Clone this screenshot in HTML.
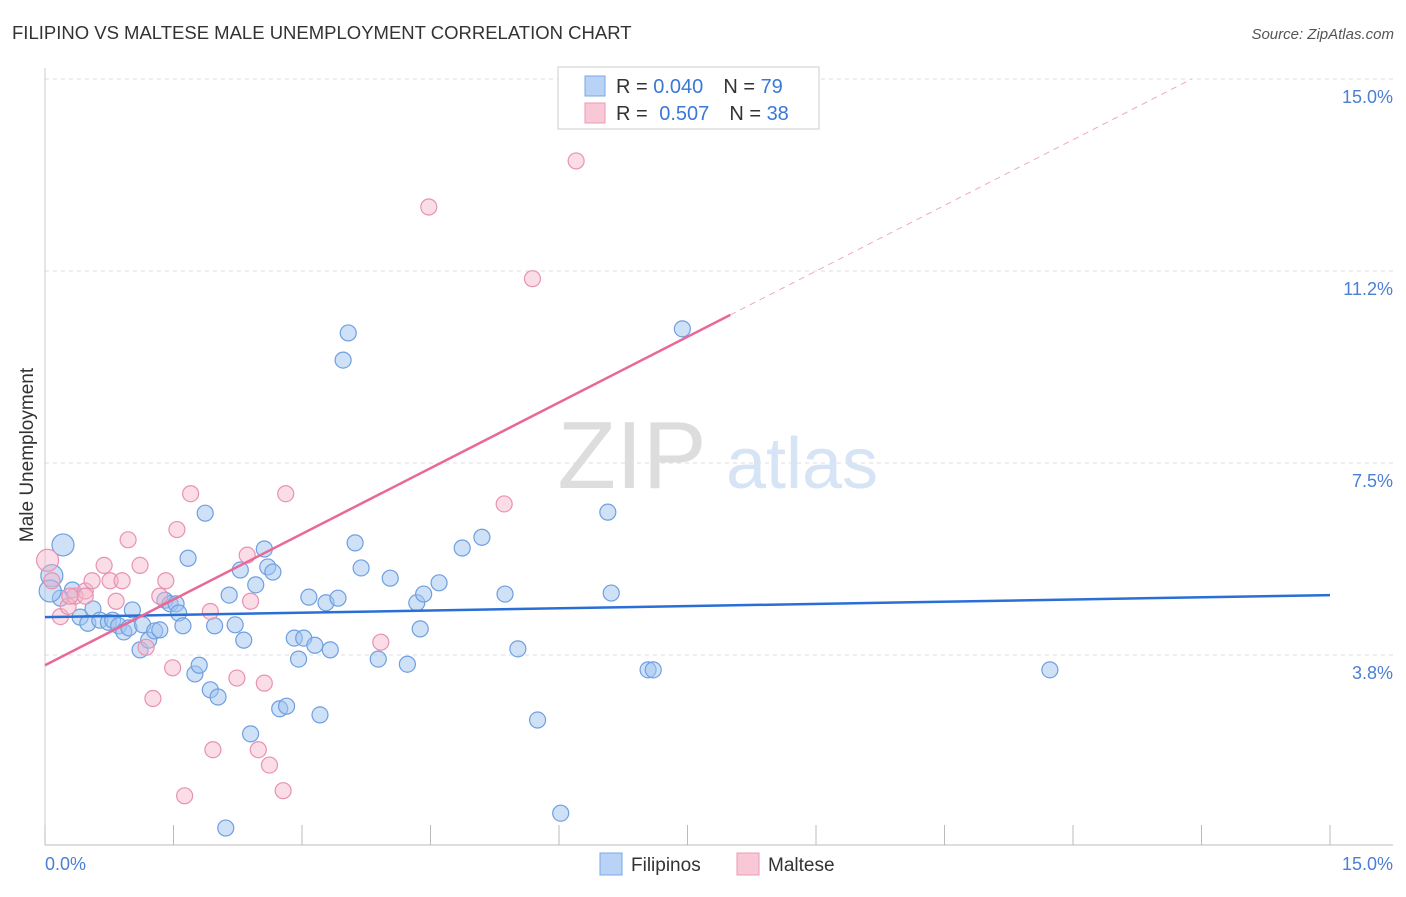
<!DOCTYPE html>
<html><head><meta charset="utf-8"><style>
body{margin:0;background:#fff;font-family:"Liberation Sans",sans-serif;}
svg text{font-family:"Liberation Sans",sans-serif;}
</style></head><body>
<svg id="chart" width="1406" height="892">
<text x="12" y="39" font-size="18.5" fill="#333">FILIPINO VS MALTESE MALE UNEMPLOYMENT CORRELATION CHART</text>
<text x="1394" y="39" font-size="15" fill="#555" font-style="italic" text-anchor="end">Source: ZipAtlas.com</text>
<g id="grid"></g>
<text x="632" y="488" font-size="96" fill="#ddd" text-anchor="middle" font-family="Liberation Serif">ZIP</text>
<text x="802" y="488" font-size="72" fill="#d6e4f5" text-anchor="middle">atlas</text>
<g id="marks"></g>
<text x="33" y="455" font-size="19" fill="#333" transform="rotate(-90 33 455)" text-anchor="middle">Male Unemployment</text>
<text x="45" y="870" font-size="18" fill="#4a7fd4">0.0%</text>
<text x="1393" y="870" font-size="18" fill="#4a7fd4" text-anchor="end">15.0%</text>
<g>
<rect x="558" y="67" width="261" height="62" fill="#fff" stroke="#ccc"/>
<rect x="585" y="76" width="20" height="20" fill="#b8d3f5" stroke="#7aa7e6"/>
<rect x="585" y="103" width="20" height="20" fill="#f9c8d6" stroke="#ec9ab5"/>
<text x="616" y="93" font-size="20" fill="#333">R = <tspan fill="#3a78d8">0.040</tspan><tspan dx="20">N = </tspan><tspan fill="#3a78d8">79</tspan></text>
<text x="616" y="120" font-size="20" fill="#333">R = <tspan dx="6" fill="#3a78d8">0.507</tspan><tspan dx="20">N = </tspan><tspan fill="#3a78d8">38</tspan></text>
</g>
<g>
<rect x="600" y="853" width="22" height="22" fill="#b8d3f5" stroke="#7aa7e6"/>
<text x="631" y="871" font-size="19" fill="#333">Filipinos</text>
<rect x="737" y="853" width="22" height="22" fill="#f9c8d6" stroke="#ec9ab5"/>
<text x="768" y="871" font-size="19" fill="#333">Maltese</text>
</g>
</svg>
<script>
const yTicks=[3.75,7.5,11.25,15];
const yTickLabels=["3.8%","7.5%","11.2%","15.0%"];
const blueX=[0.32,0.18,0.41,0.56,0.50,0.64,0.74,0.79,0.86,0.92,1.02,0.98,1.14,1.11,1.21,1.28,1.34,1.40,1.46,1.53,1.56,1.61,1.67,1.75,1.80,1.87,1.93,1.98,2.02,2.15,2.22,2.28,2.32,2.40,2.46,2.56,2.60,2.66,2.74,2.82,2.91,2.96,3.02,3.08,3.15,3.21,3.28,3.33,3.42,3.48,3.54,3.62,3.69,3.89,4.03,4.23,4.34,4.38,4.42,4.60,4.87,5.10,5.37,5.52,5.75,6.02,6.57,6.61,7.04,7.10,7.44,11.73,2.11];
const blueY=[5.02,4.86,4.49,4.65,4.37,4.43,4.39,4.43,4.32,4.20,4.63,4.28,4.34,3.85,4.04,4.22,4.24,4.82,4.75,4.75,4.57,4.32,5.64,3.38,3.55,6.52,3.07,4.32,2.93,4.92,4.34,5.41,4.04,2.21,5.12,5.82,5.47,5.37,2.70,2.75,4.08,3.67,4.08,4.88,3.94,2.58,4.77,3.85,4.86,9.51,10.04,5.94,5.45,3.67,5.25,3.57,4.77,4.26,4.94,5.16,5.84,6.05,4.94,3.87,2.48,0.66,6.54,4.96,3.46,3.46,10.12,3.46,0.37];
const blueBigX=[0.21,0.08,0.06];
const blueBigY=[5.9,5.3,5.0];
const pinkX=[0.03,0.08,0.18,0.27,0.35,0.47,0.55,0.69,0.76,0.83,0.90,0.97,1.11,1.18,1.26,1.34,1.41,1.49,1.54,1.63,1.70,1.93,1.96,2.24,2.36,2.40,2.49,2.56,2.62,2.78,2.81,3.92,4.48,5.36,5.69,6.20,0.47,0.29];
const pinkY=[5.6,5.2,4.5,4.7,4.9,5.0,5.2,5.5,5.2,4.8,5.2,6.0,5.5,3.9,2.9,4.9,5.2,3.5,6.2,1.0,6.9,4.6,1.9,3.3,5.7,4.8,1.9,3.2,1.6,1.1,6.9,4.0,12.5,6.7,11.1,13.4,4.9,4.9];
const blueTrend=[4.49,4.92];
const pinkTrend=[3.55,16.38];
const NS='http://www.w3.org/2000/svg';
const X0=45,X1=1330,Y0=847,PPY=51.2;
function sx(v){return X0+(X1-X0)*v/15;}
function sy(v){return Y0-v*PPY;}
const grid=document.getElementById('grid');
const marks=document.getElementById('marks');
function mk(tag,attrs,parent){const e=document.createElementNS(NS,tag);for(const k in attrs)e.setAttribute(k,attrs[k]);parent.appendChild(e);return e;}
yTicks.forEach((t,i)=>{
 const l=mk('line',{x1:45,x2:1393,y1:sy(t),y2:sy(t),stroke:'#ddd','stroke-dasharray':'4,4'},grid);
 
 
 const tx=mk('text',{x:1393,y:sy(t)+24,'font-size':18,fill:'#4a7fd4','text-anchor':'end'},grid);
 tx.textContent=yTickLabels[i];
 
 
});
const ax=mk('line',{x1:45,x2:1393,y1:845,y2:845,stroke:'#bbb'},grid);


const ay=mk('line',{x1:45,x2:45,y1:68,y2:845,stroke:'#ccc'},grid);


for(let i=0;i<=10;i++){
 const t=mk('line',{x1:sx(i*1.5),x2:sx(i*1.5),y1:825,y2:845,stroke:'#bbb'},grid);
 
 
}
blueX.forEach((v,i)=>{
 const c=mk('circle',{cx:sx(v),cy:sy(blueY[i]),r:8,fill:'rgba(160,196,240,0.5)',stroke:'#6e9fe0','stroke-width':1.2},marks);
 
 
});
blueBigX.forEach((v,i)=>{
 const c=mk('circle',{cx:sx(v),cy:sy(blueBigY[i]),r:11,fill:'rgba(160,196,240,0.5)',stroke:'#6e9fe0','stroke-width':1.2},marks);
 
 
});
pinkX.forEach((v,i)=>{
 const c=mk('circle',{cx:sx(v),cy:sy(pinkY[i]),r:i==0?11:8,fill:'rgba(245,180,200,0.45)',stroke:'#e892b1','stroke-width':1.2},marks);
 
 
});
const bl=mk('line',{x1:sx(0),y1:sy(blueTrend[0]),x2:sx(15),y2:sy(blueTrend[1]),stroke:'#2a6fd6','stroke-width':2.5},marks);


const slope=(pinkTrend[1]-pinkTrend[0])/15;
const xEnd=Math.min((15-pinkTrend[0])/slope,15), xSolid=8.0;
const pl=mk('line',{x1:sx(0),y1:sy(pinkTrend[0]),x2:sx(xSolid),y2:sy(pinkTrend[0]+slope*xSolid),stroke:'#e8689a','stroke-width':2.5},marks);


const pd=mk('line',{x1:sx(xSolid),y1:sy(pinkTrend[0]+slope*xSolid),x2:sx(xEnd),y2:sy(pinkTrend[0]+slope*xEnd),stroke:'#f0a8c0','stroke-width':1,'stroke-dasharray':'6,5'},marks);


</script>
</body></html>
